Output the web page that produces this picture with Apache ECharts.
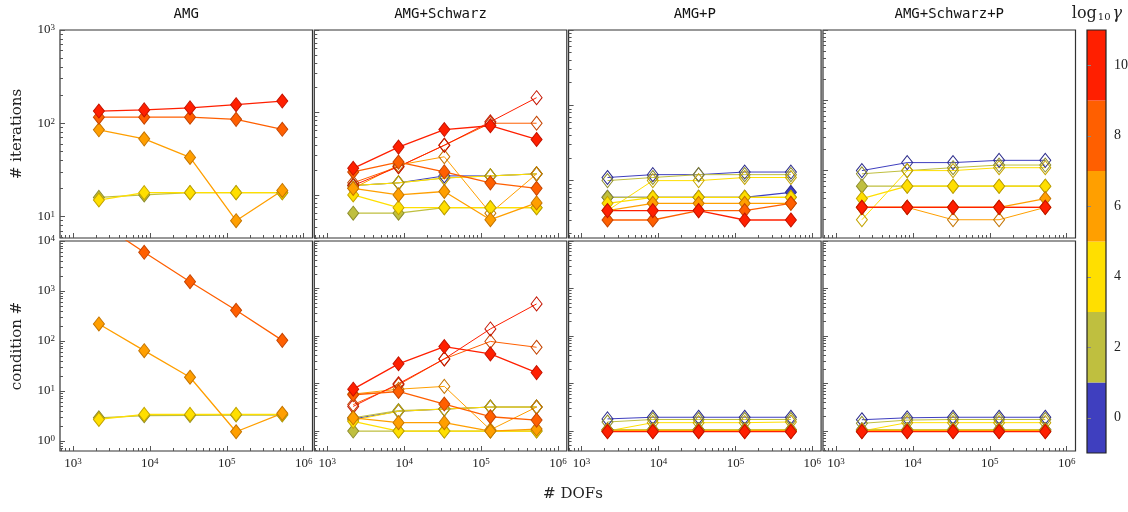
<!DOCTYPE html>
<html>
<head>
<meta charset="utf-8">
<title>AMG iterations and condition numbers</title>
<script src="https://cdn.jsdelivr.net/npm/echarts@6/dist/echarts.min.js"></script>
<style>
  html, body { margin: 0; padding: 0; background: #fff; }
  #chart { width: 1128px; height: 512px; }
</style>
</head>
<body>
<div id="chart"></div>
<script>
// number of DOFs on each refinement level
var dofs = [2178, 8450, 33282, 132098, 526338];

// colour bar: log10 gamma = 0, 2, ..., 10
var gammaTicks = ['0', '2', '4', '6', '8', '10'];
var gammaColors = ['#3f3fbf', '#bfbf3f', '#ffdf00', '#ff9f00', '#ff5f00', '#ff1f00'];
var gammaEdges = ['#2c2c8c', '#8c8c2c', '#c4a400', '#c47400', '#c44400', '#c41400'];

var panelTitles = ['AMG', 'AMG+Schwarz', 'AMG+P', 'AMG+Schwarz+P'];

// # iterations, one row per gamma (0,2,..,10), null = not plotted
var itAMG = [
    null,
    [16, 17, 18, 18, 18],
    [15, 18, 18, 18, 18],
    [85, 68, 43, 9, 19],
    [116, 116, 116, 110, 86],
    [135, 139, 146, 158, 173]
];
var itAMGOpen = [null, null, null, null, null, null];

var itSchwarz = [
    null,
    [6, 6, 7, 7, 7],
    [10, 7, 7, 7, 7],
    [12, 10, 11, 5, 8],
    [19, 25, 19, 14, 12],
    [21, 38, 62, 69, 47]
];
var itSchwarzOpen = [
    [13, 14, 17, 17, 18],
    [13, 14, 16, 17, 18],
    [13, 14, 16, 17, 18],
    [12, 23, 29, 6, 18],
    [14, 22, 40, 74, 74],
    [13, 22, 40, 77, 151]
];

var itP = [
    [6, 6, 6, 6, 7],
    [6, 6, 6, 6, 6],
    [5, 6, 6, 6, 6],
    [4, 5, 5, 5, 5],
    [3, 3, 4, 4, 5],
    [4, 4, 4, 3, 3]
];
var itPOpen = [
    [11, 12, 12, 13, 13],
    [10, 11, 12, 12, 12],
    [4, 10, 10, 11, 11],
    null, null, null
];

var itSP = [
    null,
    [6, 6, 6, 6, 6],
    [4, 6, 6, 6, 6],
    [3, 3, 3, 3, 4],
    [3, 3, 3, 3, 3],
    [3, 3, 3, 3, 3]
];
var itSPOpen = [
    [10, 13, 13, 14, 14],
    [9, 10, 11, 12, 12],
    [2, 10, 10, 11, 11],
    [3, 3, 2, 2, 3],
    null, null
];

// condition numbers
var cnAMG = [
    null,
    [2.9, 3.2, 3.25, 3.3, 3.3],
    [2.7, 3.4, 3.4, 3.4, 3.4],
    [219, 64, 18.8, 1.53, 3.58],
    [24000, 5940, 1535, 411, 103],
    null
];
var cnAMGOpen = [null, null, null, null, null, null];

var cnSchwarz = [
    null,
    [1.0, 1.0, 1.0, 1.0, 1.0],
    [1.6, 1.0, 1.0, 1.0, 1.0],
    [1.9, 1.5, 1.5, 1.0, 1.1],
    [5.8, 6.8, 3.7, 2.0, 1.7],
    [7.6, 26, 60, 42, 17]
];
var cnSchwarzOpen = [
    [1.8, 2.6, 2.9, 3.2, 3.2],
    [1.9, 2.7, 2.9, 3.2, 3.2],
    [1.7, 2.6, 2.9, 3.2, 3.2],
    [6.0, 7.6, 8.7, 1.06, 3.2],
    [3.6, 9.4, 33, 77, 58],
    [3.3, 9.9, 33, 141, 474]
];

var cnP = [
    [1.06, 1.06, 1.06, 1.06, 1.06],
    [1.06, 1.06, 1.06, 1.06, 1.06],
    [1.04, 1.04, 1.04, 1.04, 1.04],
    [1.0, 1.0, 1.0, 1.0, 1.0],
    [0.98, 0.98, 0.98, 0.98, 0.98],
    [0.97, 0.97, 0.97, 0.97, 0.97]
];
var cnPOpen = [
    [1.8, 1.95, 1.95, 1.95, 1.95],
    [1.55, 1.75, 1.75, 1.75, 1.75],
    [1.0, 1.5, 1.5, 1.5, 1.55],
    null, null, null
];

var cnSP = [
    [1.06, 1.06, 1.06, 1.06, 1.06],
    [1.06, 1.06, 1.06, 1.06, 1.06],
    [1.04, 1.04, 1.04, 1.04, 1.04],
    [1.0, 1.0, 1.0, 1.0, 1.0],
    [0.98, 0.98, 0.98, 0.98, 0.98],
    [0.97, 0.97, 0.97, 0.97, 0.97]
];
var cnSPOpen = [
    [1.73, 1.9, 1.95, 1.95, 1.95],
    [1.45, 1.7, 1.75, 1.75, 1.75],
    [1.0, 1.5, 1.5, 1.5, 1.5],
    null, null, null
];

// layout
var panelLeft = [60, 314.3, 568.6, 823];
var panelW = 252.5;
var xMin = 680, xMax = 1.3e6;
var rows = [
    { top: 30, height: 208, yMin: [5.87, 3.0, 1.73, 1.1], yMax: 1000,
      filled: [itAMG, itSchwarz, itP, itSP], open: [itAMGOpen, itSchwarzOpen, itPOpen, itSPOpen],
      yMajor: [10, 100, 1000] },
    { top: 241, height: 210, yMin: [0.63, 0.38, 0.38, 0.38], yMax: 10000,
      filled: [cnAMG, cnSchwarz, cnP, cnSP], open: [cnAMGOpen, cnSchwarzOpen, cnPOpen, cnSPOpen],
      yMajor: [1, 10, 100, 1000, 10000] }
];

var serif = 'Liberation Serif';

// minor ticks 2..9 * 10^e
function minorList(e0, e1) {
    var out = [];
    for (var e = e0; e <= e1; e++) {
        for (var k = 2; k <= 9; k++) out.push(+(k * Math.pow(10, e)).toPrecision(6));
    }
    return out;
}
var xMajor = [1e3, 1e4, 1e5, 1e6];
var xMinor = minorList(2, 6);
var yMinor = minorList(-1, 4);

function fmtPow(v) {
    return '10{s|' + Math.round(Math.log10(v)) + '}';
}

function logAxis(gi, min, max, pos, vals, len, showLabel) {
    return {
        type: 'log',
        logBase: 10,
        gridIndex: gi,
        min: min,
        max: max,
        position: pos,
        axisLine: { show: false },
        splitLine: { show: false },
        minorTick: { show: false },
        axisTick: { show: true, inside: true, length: len, customValues: vals,
            lineStyle: { color: '#555', width: 1 } },
        axisLabel: {
            show: showLabel,
            customValues: vals,
            formatter: fmtPow,
            fontFamily: serif,
            fontSize: 13,
            color: '#222',
            margin: pos === 'bottom' ? 6 : 5,
            rich: { s: { fontFamily: serif, fontSize: 9, color: '#222', verticalAlign: 'top', padding: [0, 0, 4, 0] } }
        }
    };
}

var grids = [], xAxes = [], yAxes = [], series = [];
rows.forEach(function (row, r) {
    for (var p = 0; p < 4; p++) {
        var gi = r * 4 + p;
        grids.push({
            left: panelLeft[p], top: row.top, width: panelW, height: row.height,
            show: true, backgroundColor: '#fff', borderColor: '#333', borderWidth: 1.2,
            containLabel: false, outerBoundsMode: 'none'
        });
        xAxes.push(logAxis(gi, xMin, xMax, 'bottom', xMajor, 5, r === 1));
        xAxes.push(logAxis(gi, xMin, xMax, 'bottom', xMinor, 3, false));
        yAxes.push(logAxis(gi, row.yMin[p], row.yMax, 'left', row.yMajor, 5, p === 0));
        yAxes.push(logAxis(gi, row.yMin[p], row.yMax, 'left', yMinor, 3, false));

        // open marks first, then filled marks, each in gamma order
        [['open', row.open[p]], ['filled', row.filled[p]]].forEach(function (set) {
            var filled = set[0] === 'filled';
            set[1].forEach(function (vals, g) {
                if (!vals) return;
                series.push({
                    type: 'line',
                    name: panelTitles[p] + ' ' + set[0] + ' ' + gammaTicks[g],
                    xAxisIndex: gi * 2,
                    yAxisIndex: gi * 2,
                    data: dofs.map(function (d, i) { return [d, vals[i]]; }),
                    symbol: 'diamond',
                    symbolSize: [11, 14],
                    showAllSymbol: true,
                    lineStyle: { color: gammaColors[g], width: filled ? 1.3 : 1 },
                    itemStyle: {
                        color: filled ? gammaColors[g] : 'rgba(255,255,255,0)',
                        borderColor: gammaEdges[g],
                        borderWidth: 1
                    },
                    emphasis: { disabled: true },
                    animation: false
                });
            });
        });
    }
});

// colour bar
var cbLeft = 1087, cbTop = 30, cbW = 19, cbH = 423;
grids.push({ left: cbLeft, top: cbTop, width: cbW, height: cbH, containLabel: false, outerBoundsMode: 'none' });
xAxes.push({ type: 'value', gridIndex: 8, min: 0, max: 1, show: false });
yAxes.push({
    type: 'category', gridIndex: 8, data: gammaTicks, position: 'right',
    axisLine: { show: false }, axisTick: { show: false }, splitLine: { show: false },
    axisLabel: { fontFamily: serif, fontSize: 14, color: '#222', margin: 8 }
});
yAxes.push({
    type: 'category', gridIndex: 8, data: gammaTicks, position: 'left', z: 10,
    axisLine: { show: false }, splitLine: { show: false },
    axisTick: { show: true, inside: true, alignWithLabel: true, length: 4, lineStyle: { color: '#888' } },
    axisLabel: { show: false }
});
series.push({
    type: 'bar',
    xAxisIndex: 16,
    yAxisIndex: 16,
    barWidth: '100%',
    z: 1,
    data: gammaTicks.map(function (t, i) { return { value: 1, itemStyle: { color: gammaColors[i] } }; }),
    silent: true,
    animation: false
});

// text
var graphics = [];
panelTitles.forEach(function (t, p) {
    graphics.push({
        type: 'text', x: panelLeft[p] + panelW / 2, y: 14,
        style: { text: t, font: '14px "DejaVu Sans Mono"', fill: '#111', textAlign: 'center', textVerticalAlign: 'middle' }
    });
});
graphics.push({
    type: 'text', x: 17, y: 134, rotation: Math.PI / 2,
    style: { text: '# iterations', font: '15px "DejaVu Serif"', fill: '#222', textAlign: 'center', textVerticalAlign: 'middle' }
});
graphics.push({
    type: 'text', x: 17, y: 346, rotation: Math.PI / 2,
    style: { text: 'condition #', font: '15px "DejaVu Serif"', fill: '#222', textAlign: 'center', textVerticalAlign: 'middle' }
});
graphics.push({
    type: 'text', x: 573, y: 494,
    style: { text: '# DOFs', font: '15px "DejaVu Serif"', fill: '#222', textAlign: 'center', textVerticalAlign: 'middle' }
});
graphics.push({
    type: 'text', x: 1097, y: 14,
    style: {
        text: 'log{sub|10}{g|γ}',
        font: '16px "DejaVu Serif"', fill: '#222', textAlign: 'center', textVerticalAlign: 'middle',
        rich: {
            sub: { fontFamily: 'DejaVu Serif', fontSize: 10, fill: '#222', verticalAlign: 'bottom', padding: [6, 2, 0, 1] },
            g: { fontFamily: 'DejaVu Serif', fontStyle: 'italic', fontSize: 16, fill: '#222' }
        }
    }
});
graphics.push({
    type: 'rect', z: 100, silent: true,
    shape: { x: cbLeft, y: cbTop, width: cbW, height: cbH },
    style: { fill: 'none', stroke: '#222', lineWidth: 1.2 }
});

var chart = echarts.init(document.getElementById('chart'));
chart.setOption({
    animation: false,
    backgroundColor: '#fff',
    grid: grids,
    xAxis: xAxes,
    yAxis: yAxes,
    series: series,
    graphic: graphics
});
</script>
</body>
</html>
